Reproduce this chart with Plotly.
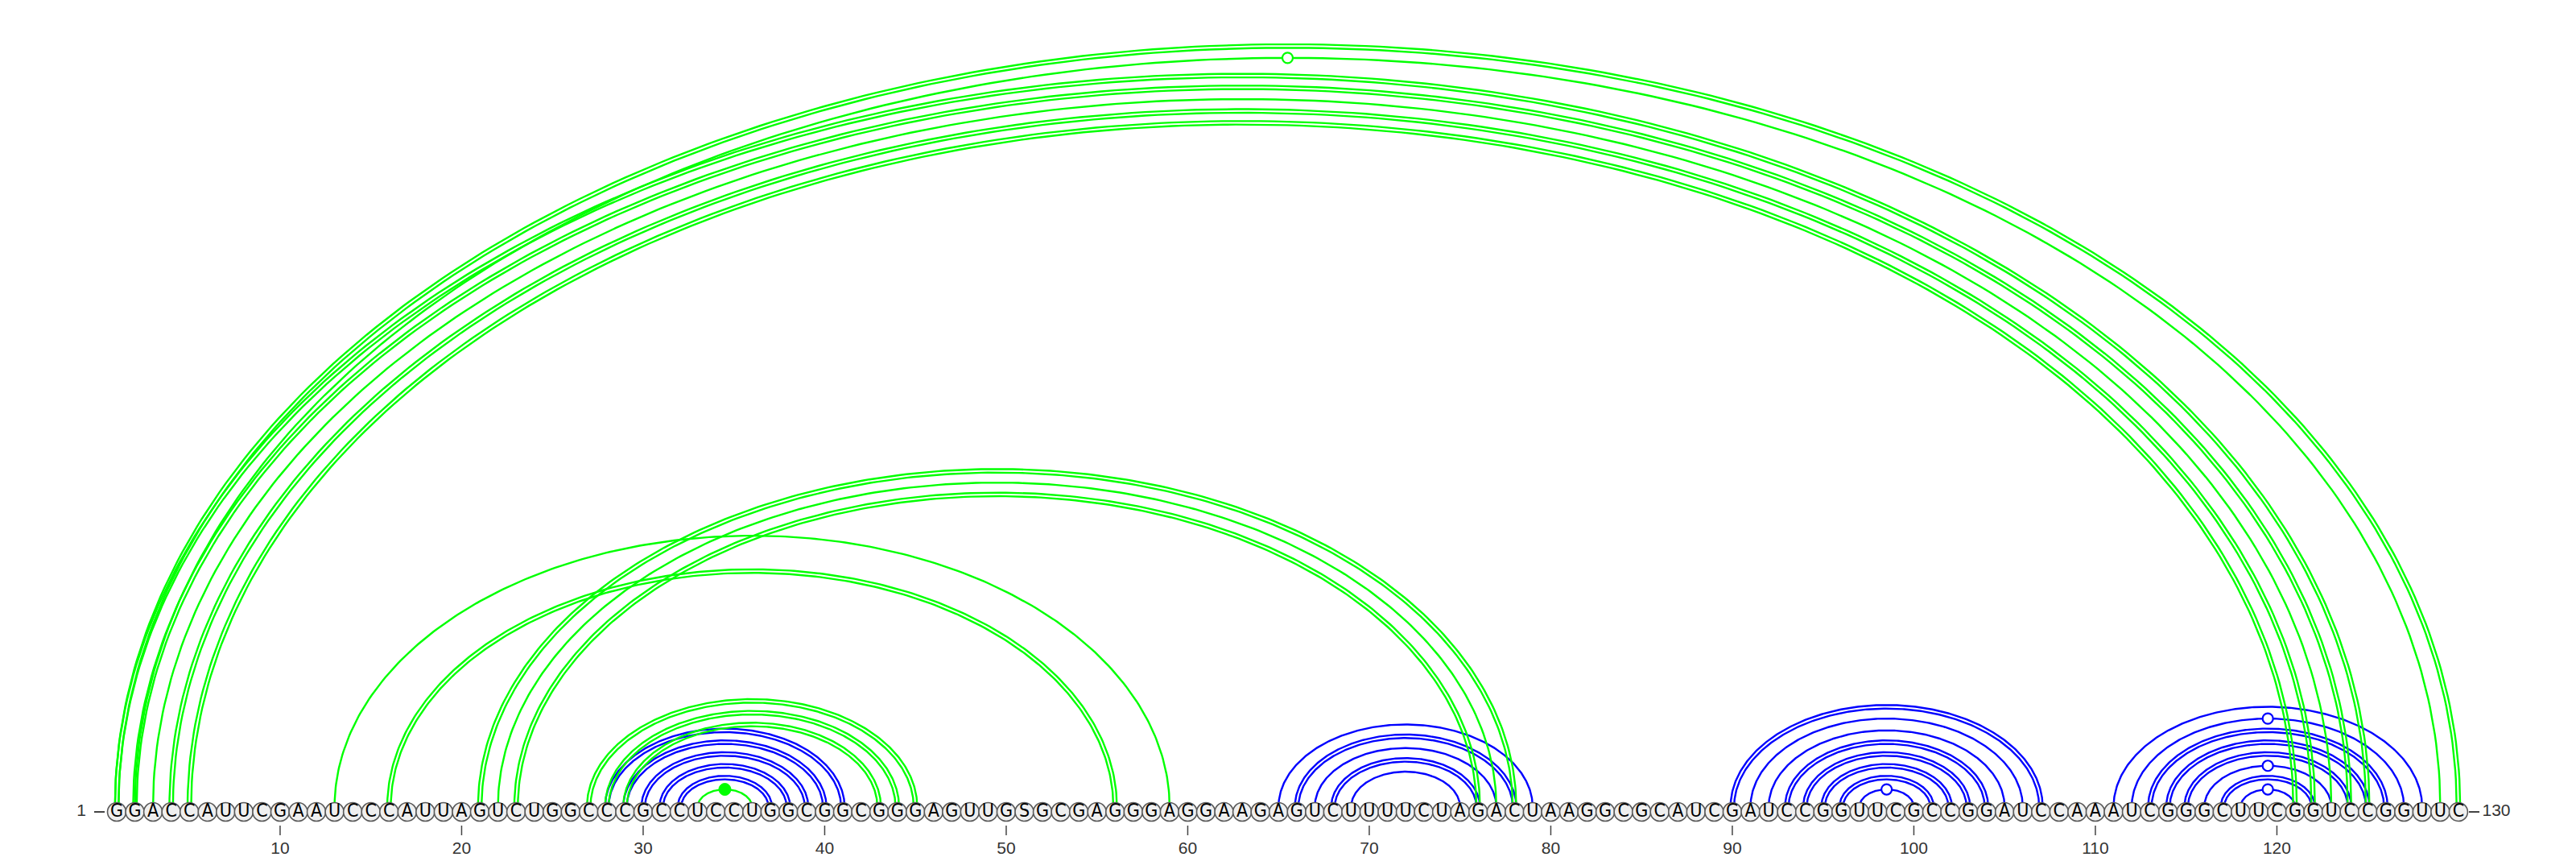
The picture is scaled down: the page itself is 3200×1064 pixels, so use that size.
import numpy as np
import plotly.graph_objects as go

# ---------------- data ----------------
SEQUENCE = list("GGACCAUUCGAAUCCCAUUAGUCUGGCCCGCCUCCUGGCGGCGGGAGUUGSGCGAGGGAGG"
                "AAGAGUCUUUUCUAGACUAAGGCGCAUCGAUCCGGUUCGCCGGAUCCAAAUCGGGCUUCGGUCCGGUUC")

# base pairs of structure drawn in green (i < j, 1-based)
GREEN_I = [1, 2, 1, 2, 3, 4, 5, 13, 16, 21, 22, 23, 27, 28, 29, 33]
GREEN_J = [130, 129, 125, 124, 123, 122, 121, 59, 56, 78, 77, 76, 45, 44, 43, 36]

# base pairs of structure drawn in blue
BLUE_I = [28, 29, 30, 31, 32, 65, 66, 67, 68, 69,
          90, 91, 92, 93, 94, 95, 96, 97,
          111, 112, 113, 114, 115, 116, 117, 118]
BLUE_J = [41, 40, 39, 38, 37, 79, 78, 77, 76, 75,
          107, 106, 105, 104, 103, 102, 101, 100,
          128, 127, 126, 125, 124, 123, 122, 121]

TICK_POSITIONS = [10, 20, 30, 40, 50, 60, 70, 80, 90, 100, 110, 120]

# ---------------- geometry / style ----------------
W, H = 3200, 1064
SPACING = 22.55          # px per nucleotide
X_FIRST = 145.0          # px of nucleotide 1
BASE_PX = 1002.0         # px where arcs are anchored
ASPECT = 0.6496          # arc height / arc half width
GREEN = "#00FF00"
BLUE = "#0000FF"

n = len(SEQUENCE)
pos = np.arange(1, n + 1)


def y_of_px(py):
    return (BASE_PX - py) / SPACING


def x_of_px(px):
    return 1 + (px - X_FIRST) / SPACING


def pair_type(i, j):
    a, b = SEQUENCE[i - 1], SEQUENCE[j - 1]
    s = {a, b}
    if s == {"G", "C"}:
        return "GC"
    if s == {"A", "U"}:
        return "AU"
    if s == {"G", "U"}:
        return "GU"
    return "NC"


def arc_xy(i, j, offset=0.0, npts=260):
    t = np.linspace(0, np.pi, npts)
    c = (i + j) / 2.0
    a = (j - i) / 2.0
    b = ASPECT * a
    ex, ey = a * np.cos(t), b * np.sin(t)
    nx, ny = b * np.cos(t), a * np.sin(t)
    nn = np.hypot(nx, ny)
    return c + ex + offset * nx / nn, ey + offset * ny / nn


def arc_traces(I, J, color):
    xs, ys = [], []
    mk_h_x, mk_h_y, mk_f_x, mk_f_y = [], [], [], []
    d = 2.2 / SPACING
    for i, j in zip(I, J):
        kind = pair_type(i, j)
        offsets = [-d, d] if kind == "GC" else [0.0]
        for off in offsets:
            x, y = arc_xy(i, j, off)
            xs += list(x) + [None]
            ys += list(y) + [None]
        if kind == "GU":
            mk_h_x.append((i + j) / 2.0)
            mk_h_y.append(ASPECT * (j - i) / 2.0)
        elif kind == "NC":
            mk_f_x.append((i + j) / 2.0)
            mk_f_y.append(ASPECT * (j - i) / 2.0)
    traces = [go.Scatter(x=xs, y=ys, mode="lines", line=dict(color=color, width=2.4),
                         hoverinfo="skip", showlegend=False)]
    if mk_h_x:
        traces.append(go.Scatter(x=mk_h_x, y=mk_h_y, mode="markers",
                                 marker=dict(size=13, color="white", line=dict(color=color, width=2.2)),
                                 hoverinfo="skip", showlegend=False))
    if mk_f_x:
        traces.append(go.Scatter(x=mk_f_x, y=mk_f_y, mode="markers",
                                 marker=dict(size=15, color=color, line=dict(color=color, width=1)),
                                 hoverinfo="skip", showlegend=False))
    return traces


fig = go.Figure()
for tr in arc_traces(BLUE_I, BLUE_J, BLUE):
    fig.add_trace(tr)
for tr in arc_traces(GREEN_I, GREEN_J, GREEN):
    fig.add_trace(tr)

# nucleotide circles with letters
y_nt = y_of_px(1008)
fig.add_trace(go.Scatter(
    x=pos, y=[y_nt] * n, mode="markers+text", text=SEQUENCE,
    textposition="middle center",
    textfont=dict(family="Liberation Sans Narrow, DejaVu Sans Condensed, sans-serif", size=23, color="black"),
    marker=dict(size=23, color="#EFEFEF", line=dict(color="#5A5A5A", width=1.6)),
    hoverinfo="skip", showlegend=False))

# tick marks below the sequence
tx, ty = [], []
for p in TICK_POSITIONS:
    tx += [p, p, None]
    ty += [y_of_px(1025), y_of_px(1037), None]
fig.add_trace(go.Scatter(x=tx, y=ty, mode="lines", line=dict(color="#444444", width=1.5),
                         hoverinfo="skip", showlegend=False))
fig.add_trace(go.Scatter(x=TICK_POSITIONS, y=[y_of_px(1055)] * len(TICK_POSITIONS),
                         mode="text", text=[str(p) for p in TICK_POSITIONS],
                         textposition="middle center",
                         textfont=dict(family="Liberation Sans, Arial, sans-serif", size=21, color="#333333"),
                         hoverinfo="skip", showlegend=False))

# 5' / 3' end labels with dashes
fig.add_trace(go.Scatter(x=[x_of_px(117), x_of_px(130), None, x_of_px(3067), x_of_px(3080)],
                         y=[y_nt, y_nt, None, y_nt, y_nt], mode="lines",
                         line=dict(color="#444444", width=2), hoverinfo="skip", showlegend=False))
fig.add_trace(go.Scatter(x=[x_of_px(101), x_of_px(3101)], y=[y_nt, y_nt], mode="text",
                         text=["1", str(n)], textposition="middle center",
                         textfont=dict(family="Liberation Sans, Arial, sans-serif", size=21, color="#333333"),
                         hoverinfo="skip", showlegend=False))

fig.update_layout(
    width=W, height=H, margin=dict(l=0, r=0, t=0, b=0),
    paper_bgcolor="white", plot_bgcolor="white", showlegend=False,
    xaxis=dict(range=[x_of_px(0), x_of_px(W)], visible=False, fixedrange=True),
    yaxis=dict(range=[y_of_px(H), y_of_px(0)], visible=False, fixedrange=True),
)

fig.write_html("out.html", config={"displayModeBar": False},
               post_script="document.body.style.margin='0';document.body.style.overflow='hidden';")
